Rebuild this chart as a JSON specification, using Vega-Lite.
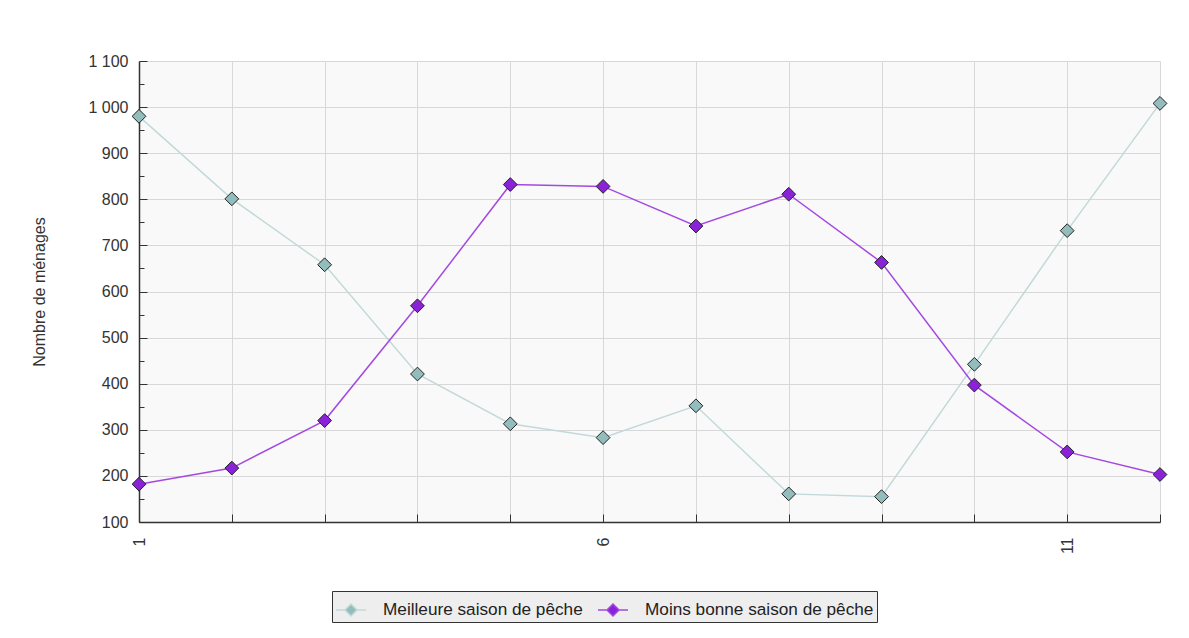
{
  "$schema": "https://vega.github.io/schema/vega-lite/v6.json",
  "width": 1021,
  "height": 461,
  "autosize": "none",
  "padding": {"left": 139, "top": 61, "right": 29, "bottom": 116},
  "background": "white",
  "config": {
    "font": "Liberation Sans",
    "view": {"fill": "#f9f9f9", "stroke": null},
    "axis": {
      "labelFont": "Liberation Sans",
      "labelFontSize": 16,
      "labelColor": "#333333",
      "titleFont": "Liberation Sans",
      "titleFontSize": 16,
      "titleFontWeight": "normal",
      "titleColor": "#333333",
      "domainColor": "#333333",
      "domainWidth": 1.5,
      "tickColor": "#333333",
      "gridColor": "#d8d8d8",
      "gridWidth": 1
    }
  },
  "data": {
    "values": [
      {"x": 1, "serie": "Meilleure saison de pêche", "v": 980},
      {"x": 2, "serie": "Meilleure saison de pêche", "v": 801},
      {"x": 3, "serie": "Meilleure saison de pêche", "v": 658},
      {"x": 4, "serie": "Meilleure saison de pêche", "v": 421},
      {"x": 5, "serie": "Meilleure saison de pêche", "v": 313},
      {"x": 6, "serie": "Meilleure saison de pêche", "v": 283},
      {"x": 7, "serie": "Meilleure saison de pêche", "v": 352},
      {"x": 8, "serie": "Meilleure saison de pêche", "v": 161},
      {"x": 9, "serie": "Meilleure saison de pêche", "v": 155},
      {"x": 10, "serie": "Meilleure saison de pêche", "v": 442},
      {"x": 11, "serie": "Meilleure saison de pêche", "v": 732},
      {"x": 12, "serie": "Meilleure saison de pêche", "v": 1008},
      {"x": 1, "serie": "Moins bonne saison de pêche", "v": 182},
      {"x": 2, "serie": "Moins bonne saison de pêche", "v": 217},
      {"x": 3, "serie": "Moins bonne saison de pêche", "v": 320},
      {"x": 4, "serie": "Moins bonne saison de pêche", "v": 569},
      {"x": 5, "serie": "Moins bonne saison de pêche", "v": 832},
      {"x": 6, "serie": "Moins bonne saison de pêche", "v": 828},
      {"x": 7, "serie": "Moins bonne saison de pêche", "v": 742},
      {"x": 8, "serie": "Moins bonne saison de pêche", "v": 811},
      {"x": 9, "serie": "Moins bonne saison de pêche", "v": 663},
      {"x": 10, "serie": "Moins bonne saison de pêche", "v": 397},
      {"x": 11, "serie": "Moins bonne saison de pêche", "v": 252},
      {"x": 12, "serie": "Moins bonne saison de pêche", "v": 203}
    ]
  },
  "encoding": {
    "x": {
      "field": "x",
      "type": "quantitative",
      "scale": {"domain": [1, 12], "nice": false, "zero": false},
      "axis": {
        "title": null,
        "values": [1, 2, 3, 4, 5, 6, 7, 8, 9, 10, 11, 12],
        "labelExpr": "datum.value % 5 == 1 ? datum.label : ''",
        "labelAngle": -90,
        "labelAlign": "right",
        "labelBaseline": "middle",
        "tickSize": -8,
        "labelPadding": 23,
        "grid": true
      }
    },
    "y": {
      "field": "v",
      "type": "quantitative",
      "scale": {"domain": [100, 1100], "nice": false, "zero": false},
      "axis": {
        "title": "Nombre de ménages",
        "values": [100, 150, 200, 250, 300, 350, 400, 450, 500, 550, 600, 650, 700, 750, 800, 850, 900, 950, 1000, 1050, 1100],
        "labelExpr": "datum.value % 100 == 0 ? replace(format(datum.value, ','), ',', ' ') : ''",
        "tickSize": {"condition": {"test": "datum.value % 100 == 0", "value": -8}, "value": -5},
        "gridOpacity": {"condition": {"test": "datum.value % 100 == 0", "value": 1}, "value": 0},
        "labelPadding": 19,
        "titlePadding": 40,
        "grid": true
      }
    }
  },
  "layer": [
    {
      "mark": {"type": "line", "strokeWidth": 1.5},
      "encoding": {
        "color": {
          "field": "serie",
          "type": "nominal",
          "scale": {"domain": ["Meilleure saison de pêche", "Moins bonne saison de pêche"], "range": ["#c3d9d9", "#a449e0"]}
        }
      }
    },
    {
      "mark": {"type": "point", "shape": "diamond", "filled": true, "size": 190, "stroke": "#222222", "strokeWidth": 1, "opacity": 1},
      "encoding": {
        "fill": {
          "field": "serie",
          "type": "nominal",
          "scale": {"domain": ["Meilleure saison de pêche", "Moins bonne saison de pêche"], "range": ["#93bcbc", "#8a22d8"]},
          "legend": {
            "title": null,
            "orient": "none",
            "legendX": 193,
            "legendY": 530,
            "direction": "horizontal",
            "fillColor": "#eeeeee",
            "strokeColor": "#333333",
            "padding": 3,
            "symbolType": "M-1,0L-0.4,0M0.4,0L1,0M0,-0.4L0.4,0L0,0.4L-0.4,0Z",
            "symbolSize": 900,
            "symbolStrokeWidth": 1.5,
            "symbolOpacity": 1,
            "labelFont": "Liberation Sans",
            "labelFontSize": 17.2,
            "labelColor": "#222222",
            "labelOffset": 16,
            "columnPadding": 12,
            "labelLimit": 400
          }
        }
      }
    }
  ]
}
